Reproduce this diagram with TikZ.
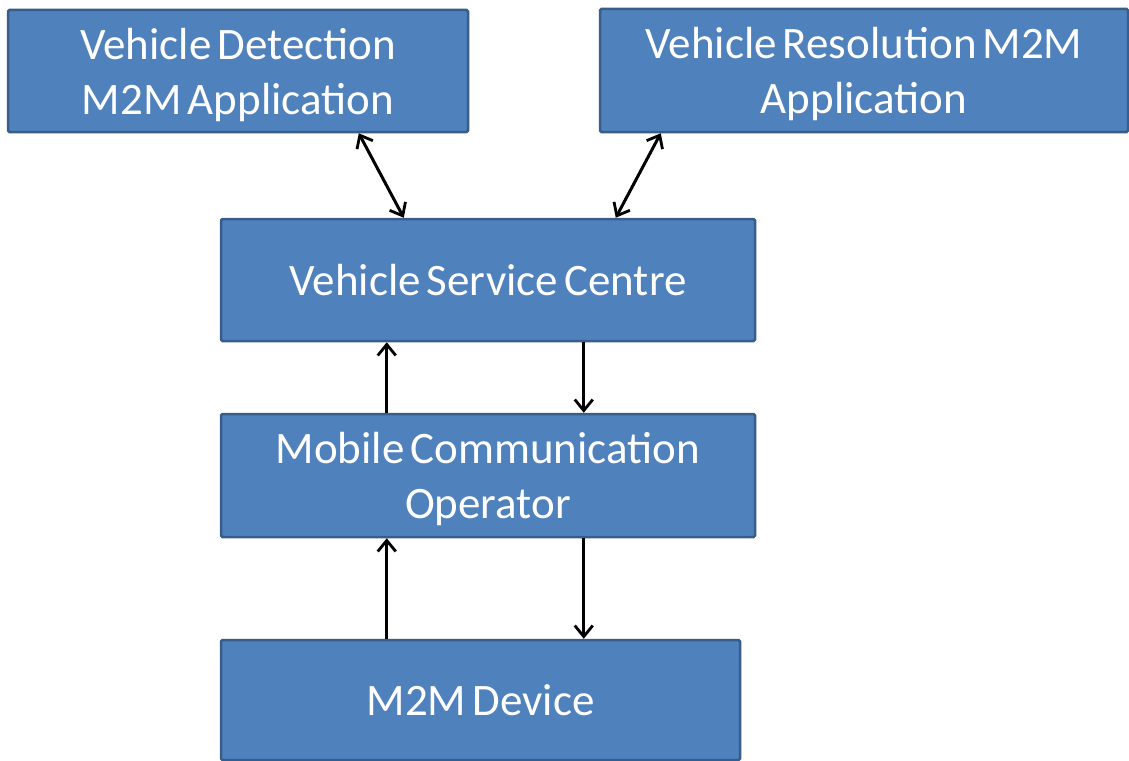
\documentclass[tikz,border=0pt]{standalone}
\usepackage{fontspec}
\setmainfont[WordSpace=0.6]{Carlito}
\usetikzlibrary{arrows.meta,calc}
\definecolor{boxfill}{HTML}{4F81BD}
\definecolor{boxline}{HTML}{385D8A}
\tikzset{barb/.tip={Straight Barb[length=11pt,width=18pt,line width=2.8pt]}}
\begin{document}
\begin{tikzpicture}[x=1pt,y=-1pt,
  blk/.style={rectangle, fill=boxfill, draw=boxline, line width=2.5pt, rounded corners=1.5pt,
    text=white, align=center, inner sep=0pt,
    font=\fontsize{45}{55}\selectfont},
  twoline/.style={text depth=0pt},
  link/.style={line width=3pt, draw=black}
]
\useasboundingbox (0,0) rectangle (1129,760);
\node[blk, twoline, minimum width=460pt, minimum height=122pt] (det) at (238,71) {Vehicle Detection\\M2M Application};
\node[blk, twoline, minimum width=528pt, minimum height=123pt] (res) at (864,70.5) {Vehicle Resolution M2M\\Application};
\node[blk, minimum width=534pt, minimum height=122pt] (vsc) at (488,280) {Vehicle Service Centre};
\node[blk, twoline, minimum width=534pt, minimum height=123pt] (mco) at (488,475.5) {Mobile Communication\\Operator};
\node[blk, minimum width=519pt, minimum height=120pt] (dev) at (480.5,700) {M2M Device};

\draw[link, barb-barb] ($(det.south west)+(352,0)$) -- ($(vsc.north west)+(184,0)$);
\draw[link, barb-barb] ($(res.south west)+(62,0)$) -- ($(vsc.north west)+(396,0)$);
\draw[link, -barb] ($(mco.north west)+(167,0)$) -- ($(vsc.south west)+(167,0)$);
\draw[link, -barb] ($(vsc.south west)+(364,0)$) -- ($(mco.north west)+(364,0)$);
\draw[link, -barb] ($(dev.north west)+(167,0)$) -- ($(mco.south west)+(167,0)$);
\draw[link, -barb] ($(mco.south west)+(364,0)$) -- ($(dev.north west)+(364,0)$);
\end{tikzpicture}
\end{document}
